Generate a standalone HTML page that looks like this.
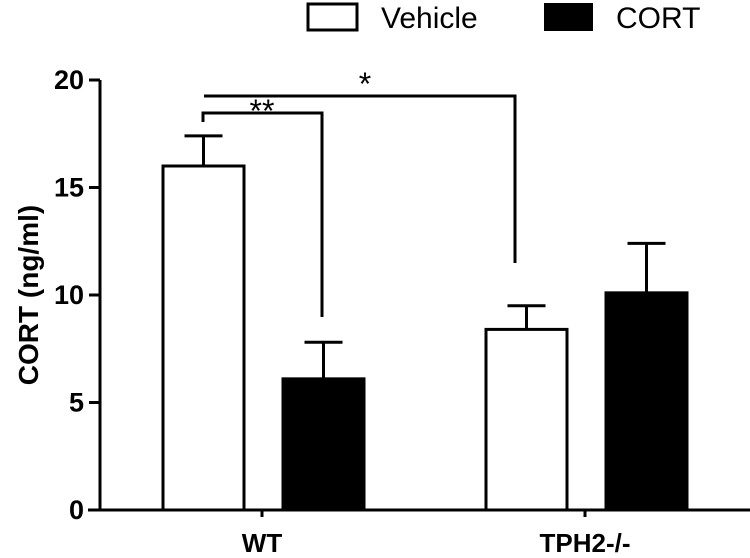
<!DOCTYPE html>
<html><head><meta charset="utf-8"><style>
html,body{margin:0;padding:0;background:#fff;}
svg{display:block;font-family:"Liberation Sans",Arial,sans-serif;}
</style></head><body>
<svg id="chart" width="750" height="558" viewBox="0 0 750 558">
<g id="legend">
 <rect x="308" y="4" width="49" height="26" fill="#fff" stroke="#000" stroke-width="3"/>
 <text x="381" y="28" font-size="30">Vehicle</text>
 <rect x="544" y="3" width="49" height="28" fill="#000"/>
 <text x="616" y="28" font-size="30">CORT</text>
</g>
<text transform="translate(38,295) rotate(-90)" text-anchor="middle" font-size="28" font-weight="bold">CORT (ng/ml)</text>
<g id="axes"></g>
<g id="bars"></g>
<g id="sig"></g>
</svg>
<script>
const categories = ["WT", "TPH2-/-"];
const vehicleMeans = [16.0, 8.4];
const vehicleSEM = [1.4, 1.1];
const cortMeans = [6.1, 10.1];
const cortSEM = [1.7, 2.3];
const yTicks = [0, 5, 10, 15, 20];

const NS = "http://www.w3.org/2000/svg";
const y0 = 510, pxPerUnit = 21.5;
function yScale(v){ return y0 - v * pxPerUnit; }
const groupCenters = [262, 585];
function mk(tag, attrs, parent){
  const el = document.createElementNS(NS, tag);
  for (const k in attrs) el.setAttribute(k, attrs[k]);
  parent.appendChild(el);
  return el;
}
const axes = document.getElementById('axes');
let l = mk('line',{x1:100,y1:yScale(20),x2:100,y2:y0,stroke:'#000','stroke-width':3},axes);


l = mk('line',{x1:88,y1:y0,x2:750,y2:y0,stroke:'#000','stroke-width':3},axes);


yTicks.forEach(t=>{
  const y = yScale(t);
  const tk = mk('line',{x1:89,y1:y,x2:100,y2:y,stroke:'#000','stroke-width':3},axes);
  
  
  const tx = mk('text',{x:84,y:y+9,'text-anchor':'end','font-size':27,'font-weight':'bold'},axes);
  tx.textContent = t;
  
  
});
categories.forEach((c,i)=>{
  const cx = groupCenters[i];
  const tk = mk('line',{x1:cx,y1:y0,x2:cx,y2:y0+7,stroke:'#000','stroke-width':3},axes);
  
  
  const tx = mk('text',{x:cx,y:y0+42,'text-anchor':'middle','font-size':26,'font-weight':'bold'},axes);
  tx.textContent = c;
  
  
});
const bars = document.getElementById('bars');
const bw = 81;
function drawBar(x, mean, sem, filled, name){
  const top = yScale(mean), et = yScale(mean+sem);
  const cx = x + bw/2;
  const e = mk('line',{x1:cx,y1:top,x2:cx,y2:et,stroke:'#000','stroke-width':3},bars);
  
  
  const cap = mk('line',{x1:cx-19,y1:et,x2:cx+19,y2:et,stroke:'#000','stroke-width':3},bars);
  
  
  const r = mk('rect',{x:x,y:top,width:bw,height:y0-top,fill:filled?'#000':'#fff',stroke:'#000','stroke-width':3},bars);
  
  
}
categories.forEach((c,i)=>{
  const cx = groupCenters[i];
  drawBar(cx-99, vehicleMeans[i], vehicleSEM[i], false, 'bar-vehicle-'+i);
  drawBar(cx+21, cortMeans[i], cortSEM[i], true, 'bar-cort-'+i);
});
const sig = document.getElementById('sig');
let p = mk('polyline',{points:'203,122 203,113 322,113 322,317',fill:'none',stroke:'#000','stroke-width':3},sig);


let t = mk('text',{x:262,y:122,'text-anchor':'middle','font-size':32},sig);
t.textContent='**';


p = mk('polyline',{points:'204,96 515,96 515,263',fill:'none',stroke:'#000','stroke-width':3},sig);


t = mk('text',{x:365,y:95,'text-anchor':'middle','font-size':32},sig);
t.textContent='*';


</script>
</body></html>
